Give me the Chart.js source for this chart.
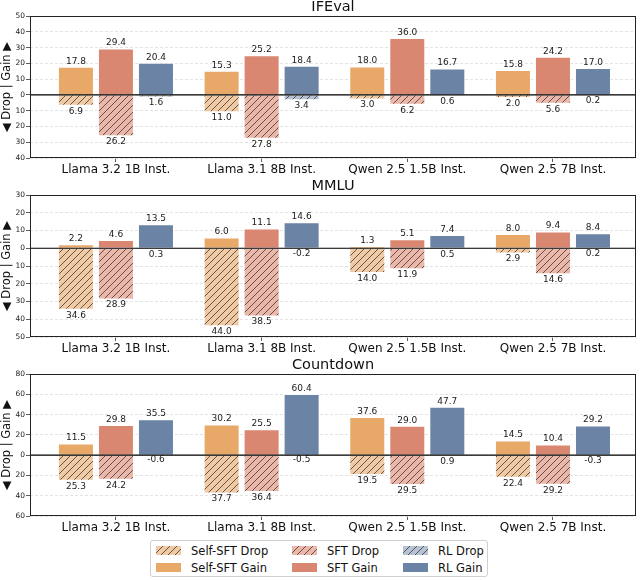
<!DOCTYPE html>
<html>
<head>
<meta charset="utf-8">
<script src="https://cdn.jsdelivr.net/npm/chart.js@4.4.1/dist/chart.umd.min.js"></script>
<style>
  body { margin: 0; background: #fff; font-family: "DejaVu Sans", sans-serif; }
  #wrap { position: relative; width: 640px; height: 580px; }
  canvas.panel { position: absolute; left: 0; }
  #legend { position: absolute; left: 150px; top: 540px; width: 338px; height: 37px;
            border: 1px solid #d0d0d0; border-radius: 3px; box-sizing: border-box; background: #fff; }
  .item { position: absolute; font-size: 11.5px; color: #111; white-space: nowrap; line-height: 14px; }
  .item canvas { position: absolute; left: 0; top: 2px; }
  .item span { position: absolute; left: 35px; top: 0; }
</style>
</head>
<body>
<div id="wrap">
  <canvas id="c1" class="panel" width="640" height="178" style="top:0px"></canvas>
  <canvas id="c2" class="panel" width="640" height="178" style="top:179px"></canvas>
  <canvas id="c3" class="panel" width="640" height="178" style="top:358px"></canvas>
  <div id="legend"></div>
</div>
<script>
const models = ['Llama 3.2 1B Inst.', 'Llama 3.1 8B Inst.', 'Qwen 2.5 1.5B Inst.', 'Qwen 2.5 7B Inst.'];
const methods = ['Self-SFT', 'SFT', 'RL'];
const gainColors = ['#E8A868', '#D98770', '#6B83A4'];
const dropColors = ['#F1CAA4', '#ECB6A8', '#B6C2D3'];

// IFEval
const ifevalGain = [[17.8, 15.3, 18.0, 15.8], [29.4, 25.2, 36.0, 24.2], [20.4, 18.4, 16.7, 17.0]];
const ifevalDrop = [[6.9, 11.0, 3.0, 2.0], [26.2, 27.8, 6.2, 5.6], [1.6, 3.4, 0.6, 0.2]];
// MMLU
const mmluGain = [[2.2, 6.0, 1.3, 8.0], [4.6, 11.1, 5.1, 9.4], [13.5, 14.6, 7.4, 8.4]];
const mmluDrop = [[34.6, 44.0, 14.0, 2.9], [28.9, 38.5, 11.9, 14.6], [0.3, -0.2, 0.5, 0.2]];
// Countdown
const countdownGain = [[11.5, 30.2, 37.6, 14.5], [29.8, 25.5, 29.0, 10.4], [35.5, 60.4, 47.7, 29.2]];
const countdownDrop = [[25.3, 37.7, 19.5, 22.4], [24.2, 36.4, 29.5, 29.2], [-0.6, -0.5, 0.9, -0.3]];

const FONT = '"DejaVu Sans", sans-serif';

function hatch(fill) {
  const s = 7;
  const c = document.createElement('canvas');
  c.width = s; c.height = s;
  const g = c.getContext('2d');
  g.fillStyle = fill;
  g.fillRect(0, 0, s, s);
  g.strokeStyle = '#4a4a4a';
  g.lineWidth = 0.9;
  g.beginPath();
  g.moveTo(-1, s + 1); g.lineTo(s + 1, -1);
  g.moveTo(-1, 1); g.lineTo(1, -1);
  g.moveTo(s - 1, s + 1); g.lineTo(s + 1, s - 1);
  g.stroke();
  return g.createPattern(c, 'repeat');
}

const extras = {
  id: 'extras',
  afterDatasetsDraw(chart) {
    const ctx = chart.ctx, a = chart.chartArea;
    const y0 = chart.scales.y.getPixelForValue(0);
    ctx.save();
    ctx.strokeStyle = '#000';
    ctx.lineWidth = 1.2;
    ctx.beginPath();
    ctx.moveTo(a.left, y0); ctx.lineTo(a.right, y0);
    ctx.stroke();
    ctx.font = '9px ' + FONT;
    ctx.fillStyle = '#1a1a1a';
    ctx.textAlign = 'center';
    chart.data.datasets.forEach((ds, di) => {
      chart.getDatasetMeta(di).data.forEach((bar, i) => {
        const txt = ds.shown[i].toFixed(1);
        if (ds.isDrop) {
          ctx.textBaseline = 'top';
          ctx.fillText(txt, bar.x, bar.y + 1);
        } else {
          ctx.textBaseline = 'bottom';
          ctx.fillText(txt, bar.x, bar.y - 1);
        }
      });
    });
    ctx.restore();
  },
  afterDraw(chart) {
    const ctx = chart.ctx, a = chart.chartArea;
    ctx.save();
    ctx.strokeStyle = '#222';
    ctx.lineWidth = 1;
    ctx.strokeRect(a.left + 0.5, a.top + 0.5, a.right - a.left - 1, a.bottom - a.top - 1);
    ctx.restore();
  }
};

function panel(id, title, gain, drop, yMin, yMax, step) {
  const datasets = [];
  methods.forEach((m, k) => {
    datasets.push({
      label: m + ' Drop', stack: 's' + k, isDrop: true, shown: drop[k],
      data: drop[k].map((v, i) => ({ x: i, y: -v })),
      backgroundColor: hatch(dropColors[k]),
      borderColor: 'rgba(255,255,255,0.7)', borderWidth: 1
    });
  });
  methods.forEach((m, k) => {
    datasets.push({
      label: m + ' Gain', stack: 's' + k, isDrop: false, shown: gain[k],
      data: gain[k].map((v, i) => ({ x: i, y: v })),
      backgroundColor: gainColors[k],
      borderColor: 'rgba(255,255,255,0.7)', borderWidth: 1
    });
  });
  return new Chart(document.getElementById(id), {
    type: 'bar',
    data: { datasets: datasets },
    options: {
      responsive: false,
      animation: false,
      categoryPercentage: 0.824,
      barPercentage: 0.9,
      layout: { padding: { left: 0, right: 4, top: 0, bottom: 0 } },
      plugins: {
        legend: { display: false },
        tooltip: { enabled: false },
        title: {
          display: true, text: title, fullSize: false, color: '#111',
          font: { family: FONT, size: 14.5, weight: 'normal', lineHeight: 1 },
          padding: { top: 0, bottom: 1.5 }
        }
      },
      scales: {
        x: {
          type: 'linear', stacked: true, offset: false, min: -0.59, max: 3.57,
          afterBuildTicks: s => { s.ticks = models.map((_, i) => ({ value: i })); },
          afterFit: s => { s.height = 20; },
          ticks: {
            autoSkip: false, maxRotation: 0, padding: 1, color: '#111',
            font: { family: FONT, size: 12 },
            callback: v => models[v]
          },
          grid: { offset: false, drawOnChartArea: false, drawTicks: true, tickLength: 4, tickColor: '#333', tickWidth: 0.8 },
          border: { display: false }
        },
        y: {
          stacked: false, min: yMin, max: yMax,
          afterFit: s => { s.width = 30; },
          ticks: {
            stepSize: step, autoSkip: false, padding: 1, color: '#222',
            font: { family: FONT, size: 7.5 },
            callback: v => Math.abs(v)
          },
          grid: { color: '#dcdcdc', lineWidth: 0.8, tickLength: 4, tickColor: '#333', tickWidth: 0.8 },
          border: { display: false, dash: [3, 2] },
          title: {
            display: true, text: '\u25C0 Drop | Gain \u25B6', color: '#111',
            font: { family: FONT, size: 11.5 }, padding: { top: 0, bottom: 0 }
          }
        }
      }
    },
    plugins: [extras]
  });
}

panel('c1', 'IFEval', ifevalGain, ifevalDrop, -40, 50, 10);
panel('c2', 'MMLU', mmluGain, mmluDrop, -50, 30, 10);
panel('c3', 'Countdown', countdownGain, countdownDrop, -60, 80, 20);

// legend: 3 columns, drops on the top row, gains on the bottom row
const legend = document.getElementById('legend');
const colX = [5, 141, 252];
methods.forEach((m, k) => {
  [['Drop', 0], ['Gain', 1]].forEach(([kind, row]) => {
    const item = document.createElement('div');
    item.className = 'item';
    item.style.left = colX[k] + 'px';
    item.style.top = (3 + row * 16.5) + 'px';
    const sw = document.createElement('canvas');
    sw.width = 25; sw.height = 9;
    const g = sw.getContext('2d');
    g.fillStyle = row === 0 ? hatch(dropColors[k]) : gainColors[k];
    g.fillRect(0, 0, 25, 9);
    const t = document.createElement('span');
    t.textContent = m + ' ' + kind;
    item.appendChild(sw);
    item.appendChild(t);
    legend.appendChild(item);
  });
});
</script>
</body>
</html>
